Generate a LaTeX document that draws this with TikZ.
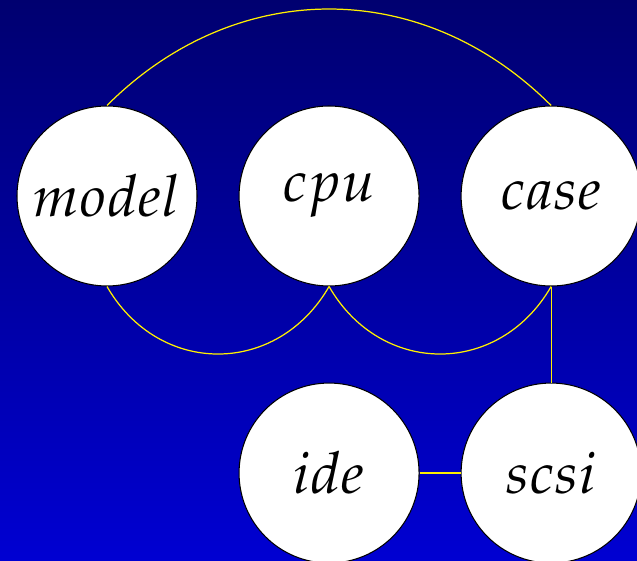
\documentclass[tikz,border=0pt]{standalone}
\usepackage{mathpazo}
\usepackage{tikz}
\usetikzlibrary{calc,positioning,shapes}
\definecolor{slidetop}{RGB}{0,0,112}
\definecolor{slidebottom}{RGB}{0,0,210}
\definecolor{edgeyellow}{RGB}{255,240,0}

\begin{document}
\begin{tikzpicture}

	% Definitions.
	\tikzstyle{every node}=[
		inner sep=0pt,
		font=\fontsize{33}{40}\selectfont
	]
	\tikzstyle{part}=[circle, draw=black, fill=white, line width=0.6pt, minimum size=3.6cm]
	\tikzstyle{link}=[draw=edgeyellow, line width=0.7pt]
	\def\PageWidth{12.74cm};
	\def\PageHeight{11.20cm};
	\def\PartGap{0.82cm};
	\def\RowGap{1.92cm};

	% ---------- Background ---------

	\shade[top color=slidetop, bottom color=slidebottom] (0,0) rectangle (\PageWidth,\PageHeight);
	\useasboundingbox (0,0) rectangle (\PageWidth,\PageHeight);

	% ------------ Parts -----------

	\node[part] (model) at (2.14cm,7.28cm) {$model$};
	\node[part, right=\PartGap of model] (cpu) {$cpu$};
	\node[part, right=\PartGap of cpu] (case) {$case$};
	\node[part, below=\RowGap of cpu] (ide) {$ide$};
	\node[part, right=\PartGap of ide] (scsi) {$scsi$};

	% ------------ Links -----------

	\draw[link] (model.north) to[out=45, in=135, looseness=1.05] (case.north);
	\draw[link] (model.south) to[out=-60, in=-120, looseness=1.2] (cpu.south);
	\draw[link] (cpu.south) to[out=-60, in=-120, looseness=1.2] (case.south);
	\draw[link] (case.south) -- (scsi.north);
	\draw[link] (ide.east) -- (scsi.west);

\end{tikzpicture}
\end{document}
